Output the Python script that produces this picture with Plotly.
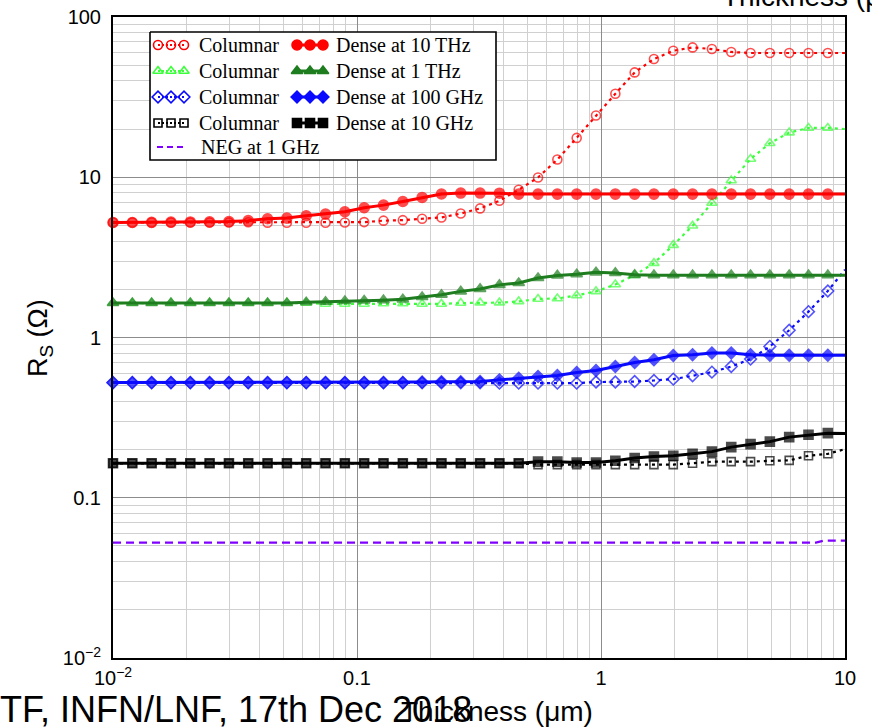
import plotly.graph_objects as go

# ---------------- data ----------------
THICK = [0.01, 0.012, 0.0144, 0.01728, 0.02074, 0.02488, 0.02986, 0.03583, 0.043, 0.0516,
         0.06192, 0.0743, 0.08916, 0.107, 0.1284, 0.1541, 0.1849, 0.2219, 0.2662, 0.3195,
         0.3834, 0.46, 0.552, 0.6624, 0.7949, 0.9539, 1.145, 1.374, 1.648, 1.978,
         2.373, 2.848, 3.418, 4.101, 4.921, 5.906, 7.087, 8.504]
THICK_EDGE = 10.0

red_col = [5.22, 5.22, 5.22, 5.22, 5.22, 5.22, 5.22, 5.24, 5.21, 5.20,
           5.20, 5.20, 5.22, 5.25, 5.36, 5.40, 5.51, 5.61, 5.94, 6.39,
           7.13, 8.36, 9.97, 12.9, 17.6, 24.3, 33.2, 45.1, 54.7, 61.6,
           64.6, 63.1, 60.5, 59.6, 59.6, 59.6, 59.6, 59.6]
red_col_edge = 59.6
red_den = [5.22, 5.22, 5.23, 5.25, 5.26, 5.27, 5.29, 5.36, 5.51, 5.56,
           5.75, 5.89, 6.09, 6.45, 6.70, 7.06, 7.48, 7.86, 7.97, 7.97,
           7.95, 7.85, 7.85, 7.85, 7.85, 7.85, 7.85, 7.85, 7.85, 7.85,
           7.85, 7.85, 7.85, 7.85, 7.85, 7.85, 7.85, 7.85]
red_den_edge = 7.85

grn_col = [1.64, 1.64, 1.64, 1.64, 1.64, 1.64, 1.64, 1.64, 1.64, 1.64,
           1.64, 1.62, 1.62, 1.62, 1.63, 1.63, 1.62, 1.62, 1.64, 1.65,
           1.65, 1.68, 1.74, 1.75, 1.83, 1.94, 2.14, 2.45, 2.91, 3.77,
           4.98, 6.90, 9.55, 13.0, 16.3, 19.0, 20.3, 20.3]
grn_col_edge = 20.0
grn_den = [1.64, 1.64, 1.64, 1.64, 1.64, 1.64, 1.64, 1.64, 1.64, 1.64,
           1.66, 1.67, 1.69, 1.70, 1.71, 1.73, 1.79, 1.85, 1.94, 2.01,
           2.13, 2.19, 2.35, 2.44, 2.48, 2.55, 2.53, 2.46, 2.45, 2.45,
           2.45, 2.45, 2.45, 2.45, 2.45, 2.45, 2.45, 2.45]
grn_den_edge = 2.45

blu_col = [0.522, 0.522, 0.522, 0.522, 0.522, 0.522, 0.522, 0.522, 0.522, 0.522,
           0.522, 0.522, 0.522, 0.522, 0.522, 0.522, 0.522, 0.522, 0.522, 0.522,
           0.519, 0.519, 0.519, 0.519, 0.519, 0.527, 0.527, 0.531, 0.539, 0.550,
           0.577, 0.608, 0.659, 0.733, 0.88, 1.11, 1.45, 1.95]
blu_col_edge = 2.65
blu_den = [0.524, 0.524, 0.524, 0.524, 0.524, 0.524, 0.524, 0.524, 0.524, 0.524,
           0.524, 0.524, 0.524, 0.524, 0.524, 0.524, 0.528, 0.530, 0.530, 0.531,
           0.544, 0.557, 0.571, 0.579, 0.605, 0.623, 0.659, 0.698, 0.726, 0.773,
           0.780, 0.800, 0.800, 0.780, 0.775, 0.775, 0.775, 0.775]
blu_den_edge = 0.775

blk_col = [0.164, 0.164, 0.164, 0.164, 0.164, 0.164, 0.164, 0.164, 0.164, 0.164,
           0.164, 0.164, 0.164, 0.164, 0.164, 0.164, 0.164, 0.164, 0.164, 0.164,
           0.164, 0.164, 0.161, 0.161, 0.161, 0.161, 0.161, 0.161, 0.161, 0.161,
           0.164, 0.168, 0.168, 0.168, 0.170, 0.171, 0.183, 0.188]
blk_col_edge = 0.201
blk_den = [0.164, 0.164, 0.164, 0.164, 0.164, 0.164, 0.164, 0.164, 0.164, 0.164,
           0.164, 0.164, 0.164, 0.164, 0.164, 0.164, 0.164, 0.164, 0.164, 0.164,
           0.164, 0.164, 0.168, 0.168, 0.166, 0.166, 0.170, 0.177, 0.181, 0.183,
           0.188, 0.194, 0.207, 0.216, 0.224, 0.239, 0.247, 0.253]
blk_den_edge = 0.252

neg_x = [0.01, 7.6, 8.2, 10.0]
neg_y = [0.0525, 0.0525, 0.054, 0.054]

X_TICKS = [0.01, 0.1, 1, 10]
X_TICKTEXT = ["10<sup>\u22122</sup>", "0.1", "1", "10"]
Y_TICKS = [0.01, 0.1, 1, 10, 100]
Y_TICKTEXT = ["10<sup>\u22122</sup>", "0.1", "1", "10", "100"]

LEGEND_COL1 = ["Columnar", "Columnar", "Columnar", "Columnar", "NEG at 1 GHz"]
LEGEND_COL2 = ["Dense at 10 THz", "Dense at 1 THz", "Dense at 100 GHz", "Dense at 10 GHz"]

# ---------------- styles ----------------
RED = "#ff0000"
LIME = "#3cff3c"
DGREEN = "#1e7d1e"
BLUE = "#0a0aff"
BLACK = "#000000"
PURPLE = "#8000ff"
COL_DASH = "3px,4px"

series = [
    # (y, edge, color, symbol, size, dash, width)
    (red_col, red_col_edge, RED, "circle-open", 9, COL_DASH, 2.2),
    (grn_col, grn_col_edge, LIME, "triangle-up-open", 9, COL_DASH, 2.2),
    (blu_col, blu_col_edge, BLUE, "diamond-open", 9, COL_DASH, 2.2),
    (blk_col, blk_col_edge, BLACK, "square-open", 8, COL_DASH, 2.2),
    (red_den, red_den_edge, RED, "circle", 10, "solid", 3),
    (grn_den, grn_den_edge, DGREEN, "triangle-up", 10, "solid", 3),
    (blu_den, blu_den_edge, BLUE, "diamond", 9, "solid", 3),
    (blk_den, blk_den_edge, BLACK, "square", 9, "solid", 3),
]

fig = go.Figure()

fig.add_trace(go.Scatter(x=neg_x, y=neg_y, mode="lines",
                         line=dict(color=PURPLE, width=2.2, dash="8px,5px"),
                         cliponaxis=False, showlegend=False))

for yv, edge, color, sym, size, dash, width in series:
    xs = THICK + [THICK_EDGE]
    ys = yv + [edge]
    sizes = [size] * len(yv) + [0]
    fig.add_trace(go.Scatter(
        x=xs, y=ys, mode="lines+markers",
        line=dict(color=color, width=width, dash=dash),
        marker=dict(symbol=sym, size=sizes, color=color,
                    line=dict(color=color, width=1.6)),
        cliponaxis=False, showlegend=False))

# ---------------- geometry helpers ----------------
L, R, T, B = 113, 845, 17, 658
W, H = 872, 728


def fx(px):
    return (px - L) / (R - L)


def fy(py):
    return (B - py) / (B - T)


# ---------------- hand-drawn legend on an overlay pixel axis ----------------
LEG_BOX_X = [150, 496, 496, 150, 150]
LEG_BOX_Y = [32, 32, 160, 160, 32]
LEG_ROWS = [45, 71, 97, 123]
LEG_NEG_ROW = 147
LEG_C1_X = [158, 171, 184]
LEG_C2_X = [297, 310, 323]

fig.add_trace(go.Scatter(x=LEG_BOX_X, y=LEG_BOX_Y, xaxis="x2", yaxis="y2", mode="lines",
                         fill="toself", fillcolor="white",
                         line=dict(color="black", width=1.6),
                         showlegend=False, hoverinfo="skip"))

col_styles = series[:4]
den_styles = series[4:]
for i, row in enumerate(LEG_ROWS):
    for xs_leg, st in ((LEG_C1_X, col_styles[i]), (LEG_C2_X, den_styles[i])):
        _, _, color, sym, size, dash, width = st
        fig.add_trace(go.Scatter(
            x=xs_leg, y=[row] * 3, xaxis="x2", yaxis="y2", mode="lines+markers",
            line=dict(color=color, width=width, dash="solid" if dash == "solid" else "2px,2px"),
            marker=dict(symbol=sym, size=size, color=color, line=dict(color=color, width=1.6)),
            cliponaxis=False, showlegend=False, hoverinfo="skip"))
fig.add_trace(go.Scatter(x=[157, 186], y=[LEG_NEG_ROW] * 2, xaxis="x2", yaxis="y2",
                         mode="lines", line=dict(color=PURPLE, width=2.2, dash="6px,4px"),
                         showlegend=False, hoverinfo="skip"))

annotations = []
leg_font = dict(family="Liberation Serif, Times New Roman, serif", size=20, color="black")
for i, txt in enumerate(LEGEND_COL1):
    yrow = LEG_ROWS[i] if i < 4 else LEG_NEG_ROW
    annotations.append(dict(x=fx(197 if i < 4 else 199), y=fy(yrow), xref="paper", yref="paper",
                            text=txt, showarrow=False, xanchor="left", yanchor="middle",
                            font=leg_font))
for i, txt in enumerate(LEGEND_COL2):
    annotations.append(dict(x=fx(334), y=fy(LEG_ROWS[i]), xref="paper", yref="paper",
                            text=txt, showarrow=False, xanchor="left", yanchor="middle",
                            font=leg_font))

# axis title (y)
annotations.append(dict(x=fx(40), y=fy(338), xref="paper", yref="paper",
                        text="R<sub>S</sub> (\u03a9)", textangle=-90, showarrow=False,
                        xanchor="center", yanchor="middle",
                        font=dict(family="Liberation Sans, Arial", size=27, color="black")))
# footer text of the slide
annotations.append(dict(x=fx(474), y=fy(709), xref="paper", yref="paper",
                        text="TF, INFN/LNF, 17th Dec 2018", showarrow=False,
                        xanchor="right", yanchor="middle",
                        font=dict(family="Liberation Sans, Arial", size=36, color="black")))
# x axis title
annotations.append(dict(x=fx(399), y=fy(711), xref="paper", yref="paper",
                        text="Thickness (\u03bcm)", showarrow=False,
                        xanchor="left", yanchor="middle",
                        font=dict(family="Liberation Sans, Arial", size=28, color="black")))
# clipped copy at top right
annotations.append(dict(x=fx(720), y=fy(14), xref="paper", yref="paper",
                        text="Thickness (\u03bcm)", showarrow=False,
                        xanchor="left", yanchor="bottom",
                        font=dict(family="Liberation Sans, Arial", size=28, color="black")))

MINOR_X = [m * 10 ** e for e in (-2, -1, 0) for m in range(2, 10)]
MINOR_Y = [m * 10 ** e for e in (-2, -1, 0, 1) for m in range(2, 10)]

tick_font = dict(family="Liberation Sans, Arial", size=20, color="black")

fig.update_layout(
    width=W, height=H,
    margin=dict(l=L, r=W - R, t=T, b=H - B, autoexpand=False),
    paper_bgcolor="white", plot_bgcolor="white",
    showlegend=False,
    xaxis=dict(type="log", range=[-2, 1], tickmode="array", tickvals=X_TICKS, ticktext=X_TICKTEXT,
               showgrid=True, gridcolor="#8c8c8c", gridwidth=1, automargin=False,
               minor=dict(tickmode="array", tickvals=MINOR_X, showgrid=True,
                          gridcolor="#d0d0d0", gridwidth=1, ticks=""),
               showline=True, linecolor="black", linewidth=2, mirror=True,
               ticks="", tickfont=tick_font, zeroline=False, ticklabelstandoff=1),
    yaxis=dict(type="log", range=[-2, 2], tickmode="array", tickvals=Y_TICKS, ticktext=Y_TICKTEXT,
               showgrid=True, gridcolor="#8c8c8c", gridwidth=1, automargin=False,
               minor=dict(tickmode="array", tickvals=MINOR_Y, showgrid=True,
                          gridcolor="#d0d0d0", gridwidth=1, ticks=""),
               showline=True, linecolor="black", linewidth=2, mirror=True,
               ticks="", tickfont=tick_font, zeroline=False, ticklabelstandoff=6),
    xaxis2=dict(overlaying="x", range=[L, R], visible=False, autorange=False, automargin=False),
    yaxis2=dict(overlaying="y", range=[B, T], visible=False, autorange=False, automargin=False),
    annotations=annotations,
)

fig.write_html("out.html")
